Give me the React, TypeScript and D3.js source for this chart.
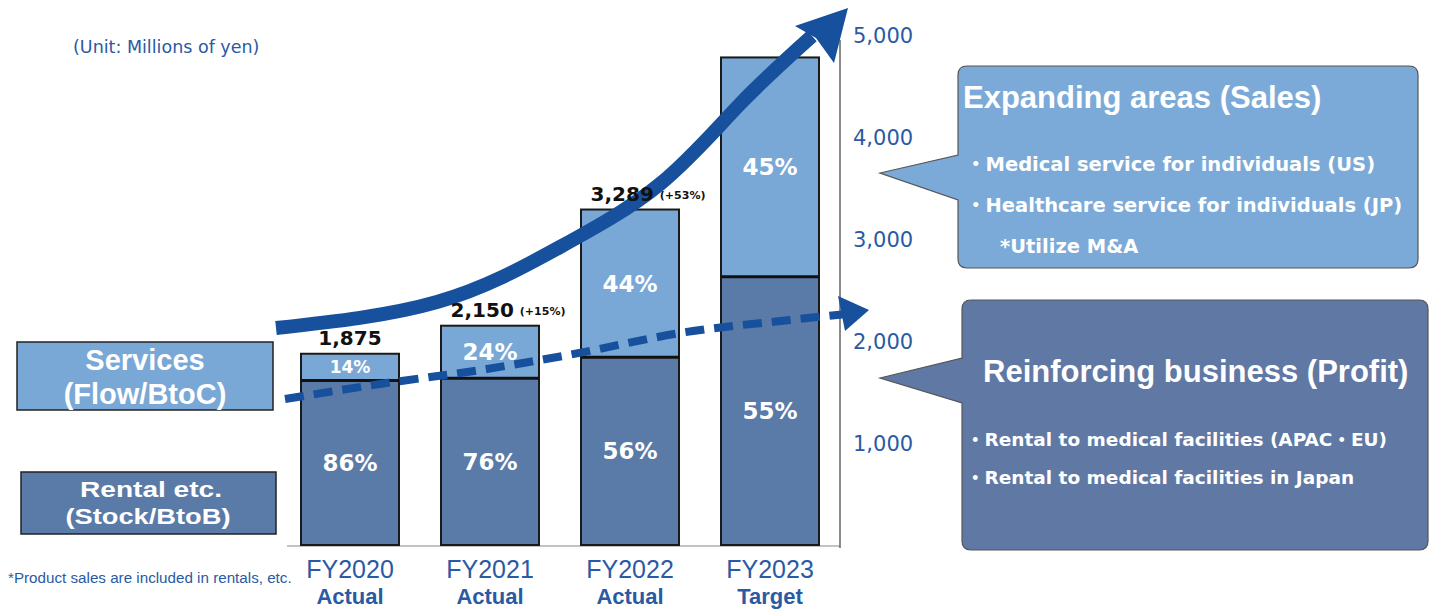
import React from "react";
import * as d3 from "d3";

// ---------- data ----------
const years = ["FY2020", "FY2021", "FY2022", "FY2023"];
const statuses = ["Actual", "Actual", "Actual", "Target"];
const totals = [1875, 2150, 3289, 4780];
const servicesShare = [14, 24, 44, 45];
const rentalShare = [86, 76, 56, 55];
const totalLabels = ["1,875", "2,150", "3,289", ""];
const growthLabels = ["", "(+15%)", "(+53%)", ""];
const yTicks = [1000, 2000, 3000, 4000, 5000];

const unitText = "(Unit: Millions of yen)";
const footnote = "*Product sales are included in rentals, etc.";
const legendServices = ["Services", "(Flow/BtoC)"];
const legendRental = ["Rental etc.", "(Stock/BtoB)"];
const salesTitle = "Expanding areas (Sales)";
const salesItems = ["・Medical service for individuals (US)", "・Healthcare service for individuals (JP)", "*Utilize M&A"];
const profitTitle = "Reinforcing business (Profit)";
const profitItems = ["・Rental to medical facilities (APAC・EU)", "・Rental to medical facilities in Japan"];

// ---------- styles ----------
const W = 1436;
const H = 609;
const C_SERV = "#7aa8d6";
const C_RENT = "#5a7ba8";
const C_CALL1 = "#7caad8";
const C_CALL2 = "#6078a4";
const C_ARROW = "#17509c";
const C_TEXT = "#2a5aa3";
const SANS = "'Liberation Sans', Arial, 'Noto Sans CJK JP', sans-serif";
const ROUND = "'DejaVu Sans', 'Liberation Sans', 'Noto Sans CJK JP', sans-serif";

function calloutPath(x0: number, y0: number, x1: number, y1: number, r: number, tipX: number, tipY: number, b0: number, b1: number) {
  return `M${x0 + r},${y0} H${x1 - r} Q${x1},${y0} ${x1},${y0 + r} V${y1 - r} Q${x1},${y1} ${x1 - r},${y1} H${x0 + r} Q${x0},${y1} ${x0},${y1 - r} V${b1} L${tipX},${tipY} L${x0},${b0} V${y0 + r} Q${x0},${y0} ${x0 + r},${y0} Z`;
}

export default function App() {
  const x = d3.scaleBand<string>().domain(years).range([280, 840]).paddingInner(0.3).paddingOuter(0.15);
  const y = d3.scaleLinear().domain([0, 5000]).range([545, 35]);
  const bw = x.bandwidth();
  const axisX = x.range()[1];

  // annotation arrows (decorative)
  const line = d3.line().curve(d3.curveNatural);
  const bigArrow: [number, number][] = [[276, 328], [437, 302], [560, 247], [660, 184], [740, 104], [812, 36]];
  const bigHead: [number, number][] = [[848, 8], [795, 26], [816, 38], [834, 63]];
  const dashLine = d3.line().curve(d3.curveMonotoneX);
  const dashArrow: [number, number][] = [[285, 399], [380, 384], [487, 369], [563, 356], [693, 331], [790, 320], [846, 314]];
  const dashHead: [number, number][] = [[838, 296], [869, 310], [845, 331]];

  return (
    <svg width={W} height={H} style={{ position: "absolute", left: 0, top: 0, background: "#fff" }}>
      <rect x={0} y={0} width={W} height={H} fill="#fff" />

      {/* unit */}
      <text x={73} y={53} fontFamily={ROUND} fontSize={17.5} fill={C_TEXT}>{unitText}</text>

      {/* baseline */}
      <line x1={287} x2={axisX} y1={y(0) + 1} y2={y(0) + 1} stroke="#888" strokeWidth={1.2} />

      {/* bars */}
      {years.map((yr, i) => {
        const x0 = x(yr)!;
        const t = totals[i];
        const rent = (t * rentalShare[i]) / 100;
        return (
          <g key={yr}>
            <rect x={x0} y={y(rent)} width={bw} height={y(0) - y(rent)} fill={C_RENT} />
            <rect x={x0} y={y(t)} width={bw} height={y(rent) - y(t)} fill={C_SERV} />
            <rect x={x0} y={y(t)} width={bw} height={y(0) - y(t)} fill="none" stroke="#1a1a1a" strokeWidth={2} />
            <line x1={x0} x2={x0 + bw} y1={y(rent)} y2={y(rent)} stroke="#111" strokeWidth={3} />
          </g>
        );
      })}

      {/* axis */}
      <line x1={axisX} x2={axisX} y1={40} y2={y(0) + 3} stroke="#666" strokeWidth={1.5} />
      {yTicks.map((v) => (
        <text key={v} x={axisX + 13} y={y(v)} dy="0.36em" fontFamily={ROUND} fontSize={21} fill={C_TEXT}>
          {d3.format(",")(v)}
        </text>
      ))}

      {/* arrows */}
      <path d={line(bigArrow)!} fill="none" stroke={C_ARROW} strokeWidth={14} />
      <polygon points={bigHead.map((p) => p.join(",")).join(" ")} fill={C_ARROW} />
      <path d={dashLine(dashArrow)!} fill="none" stroke={C_ARROW} strokeWidth={8} strokeDasharray="19 10" />
      <polygon points={dashHead.map((p) => p.join(",")).join(" ")} fill={C_ARROW} />

      {/* percentage labels */}
      {years.map((yr, i) => {
        const cx = x(yr)! + bw / 2;
        const t = totals[i];
        const rent = (t * rentalShare[i]) / 100;
        const small = servicesShare[i] < 20;
        return (
          <g key={"p" + yr} fontFamily={ROUND} fontWeight="bold" fill="#fff" textAnchor="middle">
            <text x={cx} y={(y(t) + y(rent)) / 2} dy="0.36em" fontSize={small ? 17 : 23}>{servicesShare[i]}%</text>
            <text x={cx} y={(y(rent) + y(0)) / 2} dy="0.36em" fontSize={23}>{rentalShare[i]}%</text>
          </g>
        );
      })}

      {/* total labels */}
      {years.map((yr, i) =>
        totalLabels[i] ? (
          <text key={"t" + yr} x={x(yr)! + bw / 2 + (growthLabels[i] ? 18 : 0)} y={y(totals[i]) - 9} textAnchor="middle" fontFamily={ROUND} fontWeight="bold" fontSize={20} fill="#111">
            {totalLabels[i]}
            {growthLabels[i] ? <tspan fontSize={11} dx={6} dy={-2}>{growthLabels[i]}</tspan> : null}
          </text>
        ) : null
      )}

      {/* x labels */}
      {years.map((yr, i) => (
        <g key={"x" + yr} textAnchor="middle" fill={C_TEXT} fontFamily={SANS}>
          <text x={x(yr)! + bw / 2} y={578} fontSize={25}>{yr}</text>
          <text x={x(yr)! + bw / 2} y={604} fontSize={22} fontWeight="bold">{statuses[i]}</text>
        </g>
      ))}

      {/* footnote */}
      <text x={8} y={583} fontFamily={SANS} fontSize={15.2} fill={C_TEXT}>{footnote}</text>

      {/* legend boxes */}
      <rect x={17} y={342} width={256} height={68} fill={C_SERV} stroke="#222" strokeWidth={1.5} />
      <text x={145} y={370} textAnchor="middle" fontFamily={SANS} fontWeight="bold" fontSize={29} fill="#fff">{legendServices[0]}</text>
      <text x={145} y={404} textAnchor="middle" fontFamily={SANS} fontWeight="bold" fontSize={29} fill="#fff">{legendServices[1]}</text>
      <rect x={21} y={472} width={255} height={62} fill={C_RENT} stroke="#222" strokeWidth={1.5} />
      <text x={151} y={497} textAnchor="middle" fontFamily={SANS} fontWeight="bold" fontSize={22} textLength={142} lengthAdjust="spacingAndGlyphs" fill="#fff">{legendRental[0]}</text>
      <text x={148} y={524} textAnchor="middle" fontFamily={SANS} fontWeight="bold" fontSize={22} textLength={165} lengthAdjust="spacingAndGlyphs" fill="#fff">{legendRental[1]}</text>

      {/* callouts */}
      <path d={calloutPath(958, 66, 1418, 268, 9, 880, 173, 155, 200)} fill={C_CALL1} stroke="#555" strokeWidth={1.2} />
      <text x={963} y={108} fontFamily={SANS} fontWeight="bold" fontSize={31} fill="#fff">{salesTitle}</text>
      {salesItems.map((s, i) => (
        <text key={s} x={i === 2 ? 1000 : 966} y={171 + i * 41} fontFamily={ROUND} fontWeight="bold" fontSize={19.5} fill="#fff">{s}</text>
      ))}

      <path d={calloutPath(962, 300, 1428, 550, 9, 880, 378, 358, 403)} fill={C_CALL2} stroke="#555" strokeWidth={1.2} />
      <text x={983} y={382} fontFamily={SANS} fontWeight="bold" fontSize={31} fill="#fff">{profitTitle}</text>
      {profitItems.map((s, i) => (
        <text key={s} x={966} y={446 + i * 38} fontFamily={ROUND} fontWeight="bold" fontSize={18.5} fill="#fff">{s}</text>
      ))}
    </svg>
  );
}
